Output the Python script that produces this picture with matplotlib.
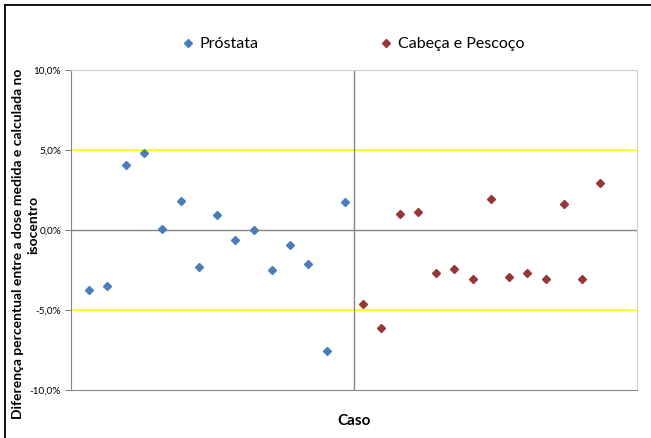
import matplotlib
matplotlib.use("Agg")
import matplotlib.pyplot as plt
from matplotlib.lines import Line2D
from matplotlib.ticker import FuncFormatter

plt.rcParams['font.family'] = ['Lato', 'DejaVu Sans']

# dados (diferenca em %)
prostata_caso = list(range(1, 16))
prostata_dif = [-3.73, -3.52, 4.06, 4.79, 0.06, 1.83, -2.31, 0.94, -0.65, -0.02,
                -2.52, -0.96, -2.12, -7.56, 1.77]
cabeca_caso = list(range(16, 30))
cabeca_dif = [-4.62, -6.12, 1.00, 1.10, -2.71, -2.46, -3.04, 1.96, -2.94, -2.69,
              -3.04, 1.60, -3.04, 2.96]
yticks = [-10, -5, 0, 5, 10]

azul = '#4A7EBB'
vermelho = '#953735'
cinza = '#868686'

fig = plt.figure(figsize=(6.51, 4.38), dpi=100)
ax = fig.add_axes([0.109, 0.1096, 0.8695, 0.7304])

ax.axhline(5, color='#FFFF00', lw=1.2, zorder=1)
ax.axhline(-5, color='#FFFF00', lw=1.2, zorder=1)
ax.axhline(0, color=cinza, lw=1.0, zorder=1)
ax.axvline(15.5, color=cinza, lw=1.0, zorder=1)

ax.plot(prostata_caso, prostata_dif, 'D', color=azul, ms=4.5, mec=azul, zorder=3)
ax.plot(cabeca_caso, cabeca_dif, 'D', color=vermelho, ms=4.5, mec=vermelho, zorder=3)

ax.set_xlim(0, 31)
ax.set_ylim(-10, 10)
ax.set_xticks([])
ax.set_yticks(yticks)
ax.yaxis.set_major_formatter(FuncFormatter(lambda v, p: ('%.1f%%' % v).replace('.', ',')))
ax.tick_params(axis='y', labelsize=7.2, length=4, color=cinza, pad=3)
for s in ax.spines.values():
    s.set_color('#D0D0D0')
ax.spines['left'].set_color(cinza)
ax.spines['bottom'].set_color(cinza)

# titulo do eixo y em duas linhas, como no Excel
fig.text(18 / 651, 0.443, 'Diferença percentual entre a dose medida e calculada no',
         rotation=90, ha='center', va='center', fontsize=10, fontweight='bold')
fig.text(33 / 651, 0.486, 'isocentro',
         rotation=90, ha='center', va='center', fontsize=10, fontweight='bold')
ax.set_xlabel('Caso', fontsize=11, fontweight='bold', labelpad=17)

h1 = Line2D([], [], marker='D', ls='none', color=azul, ms=4)
h2 = Line2D([], [], marker='D', ls='none', color=vermelho, ms=4)
fig.legend([h1, h2], ['Próstata', 'Cabeça e Pescoço'], loc='center',
           bbox_to_anchor=(0.541, 0.899), ncol=2, frameon=False, fontsize=11.5,
           handletextpad=0.2, columnspacing=7.5, handlelength=1.0)

# borda da figura (so topo e esquerda visiveis)
fig.add_artist(Line2D([5 / 651, 1], [1 - 5 / 438, 1 - 5 / 438], color='black', lw=1.3))
fig.add_artist(Line2D([5 / 651, 5 / 651], [0, 1 - 5 / 438], color='black', lw=1.3))

fig.savefig('out.png', dpi=100)
